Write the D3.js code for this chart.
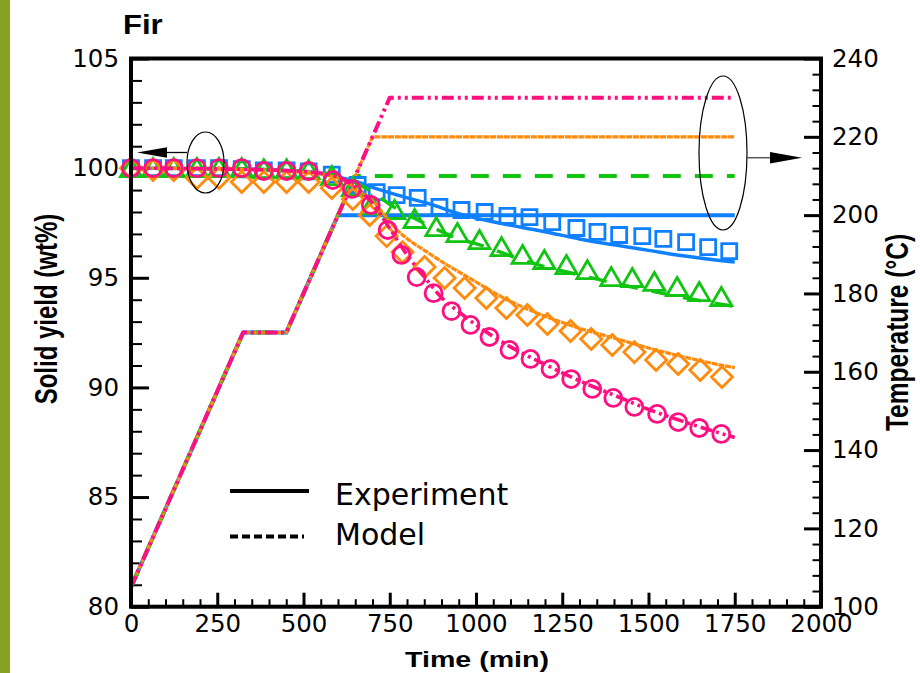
<!DOCTYPE html>
<html>
<head>
<meta charset="utf-8">
<script src="https://cdn.jsdelivr.net/npm/d3@7"></script>
<style>
  html, body { margin: 0; padding: 0; background: #fff; }
  svg { display: block; }
</style>
</head>
<body>
<svg id="chart" width="920" height="673"></svg>
<script>
// Fir torrefaction: solid yield (left axis) and temperature programme (right axis) vs time

// ---- axis ticks ----
const xTicks = [0, 250, 500, 750, 1000, 1250, 1500, 1750, 2000];
const yLeftTicks = [80, 85, 90, 95, 100, 105];
const yRightTicks = [100, 120, 140, 160, 180, 200, 220, 240];

// ---- series (one per final temperature) ----
const seriesKeys = ["T200", "T210", "T220", "T230"];
const seriesColors = ["#0f80ff", "#12c412", "#ff8a0c", "#ff0f80"];
const seriesSymbols = ["square", "triangle", "diamond", "circle"];

// experimental solid yield, wt%
const expTime200 = [0, 64, 124, 191, 255, 321, 385, 451, 515, 582, 657, 712, 770, 831, 894, 958, 1025, 1091, 1155, 1221, 1291, 1352, 1415, 1482, 1543, 1609, 1673, 1734];
const expYield200 = [100, 100, 100, 100, 100, 99.95, 99.9, 99.9, 99.85, 99.7, 99.23, 98.91, 98.77, 98.64, 98.23, 98.09, 98.0, 97.82, 97.77, 97.54, 97.27, 97.09, 96.95, 96.9, 96.77, 96.63, 96.4, 96.22];

const expTime210 = [0, 64, 124, 191, 255, 321, 385, 451, 515, 582, 643, 697, 764, 822, 885, 946, 1010, 1074, 1135, 1198, 1262, 1323, 1392, 1453, 1517, 1583, 1647, 1711];
const expYield210 = [100, 100, 100, 100, 100, 100, 99.95, 99.95, 99.91, 99.64, 99.14, 98.3, 98.09, 97.68, 97.31, 97.04, 96.72, 96.4, 96.04, 95.81, 95.58, 95.35, 95.03, 94.99, 94.81, 94.58, 94.35, 94.12];

const expTime220 = [0, 64, 124, 191, 255, 321, 385, 451, 515, 582, 643, 692, 741, 787, 851, 909, 967, 1030, 1088, 1149, 1207, 1274, 1334, 1395, 1459, 1522, 1586, 1650, 1713];
const expYield220 = [100, 99.91, 99.91, 99.55, 99.55, 99.37, 99.37, 99.37, 99.37, 99.09, 98.59, 97.86, 96.9, 96.17, 95.49, 94.99, 94.53, 94.08, 93.62, 93.3, 92.89, 92.57, 92.21, 91.93, 91.61, 91.25, 91.07, 90.79, 90.47];

const expTime230 = [0, 64, 124, 191, 255, 321, 385, 451, 515, 585, 640, 695, 744, 784, 828, 877, 929, 984, 1039, 1097, 1158, 1216, 1276, 1337, 1398, 1459, 1525, 1586, 1647, 1711];
const expYield230 = [100, 100, 100, 100, 100, 100, 99.87, 99.87, 99.87, 99.46, 99.05, 98.32, 97.18, 96.04, 95.03, 94.3, 93.48, 92.85, 92.3, 91.71, 91.3, 90.84, 90.38, 89.93, 89.52, 89.11, 88.79, 88.42, 88.15, 87.88];

// model solid yield, wt%
const modTime200 = [0, 300, 500, 600, 650, 700, 770, 865, 960, 1060, 1200, 1300, 1400, 1500, 1600, 1700, 1750];
const modYield200 = [100, 99.97, 99.85, 99.6, 99.4, 99.12, 98.78, 98.37, 97.88, 97.52, 97.1, 96.77, 96.5, 96.25, 96.0, 95.8, 95.72];

const modTime210 = [0, 300, 500, 600, 650, 700, 750, 830, 930, 1030, 1100, 1200, 1300, 1400, 1500, 1600, 1700, 1750];
const modYield210 = [100, 99.97, 99.85, 99.65, 99.35, 98.9, 98.35, 97.65, 96.9, 96.4, 96.0, 95.5, 95.13, 94.76, 94.42, 94.1, 93.82, 93.7];

const modTime220 = [0, 300, 500, 600, 650, 700, 770, 870, 990, 1090, 1200, 1300, 1400, 1500, 1600, 1700, 1750];
const modYield220 = [100, 99.95, 99.8, 99.55, 99.1, 98.5, 97.2, 96.05, 94.9, 94.0, 93.25, 92.7, 92.25, 91.8, 91.4, 91.05, 90.9];

const modTime230 = [0, 300, 500, 600, 650, 700, 750, 800, 850, 900, 950, 1000, 1100, 1200, 1300, 1400, 1500, 1600, 1700, 1750];
const modYield230 = [100, 99.95, 99.85, 99.6, 99.15, 98.4, 97.25, 96.05, 95.05, 94.1, 93.45, 92.85, 91.85, 91.05, 90.3, 89.65, 89.0, 88.45, 87.95, 87.72];

// temperature programmes, °C
const tempTime200 = [0, 325, 450, 600, 1750];
const tempValue200 = [105, 170, 170, 200, 200];
const tempTime210 = [0, 325, 450, 650, 1750];
const tempValue210 = [105, 170, 170, 210, 210];
const tempTime220 = [0, 325, 450, 700, 1750];
const tempValue220 = [105, 170, 170, 220, 220];
const tempTime230 = [0, 325, 450, 750, 1750];
const tempValue230 = [105, 170, 170, 230, 230];

// legend
const legendLabels = ["Experiment", "Model"];

// ---------------------------------------------------------------
const zip = (xs, ys) => xs.map((x, i) => [x, ys[i]]);
const expData = [zip(expTime200, expYield200), zip(expTime210, expYield210), zip(expTime220, expYield220), zip(expTime230, expYield230)];
const modData = [zip(modTime200, modYield200), zip(modTime210, modYield210), zip(modTime220, modYield220), zip(modTime230, modYield230)];
const tempData = [zip(tempTime200, tempValue200), zip(tempTime210, tempValue210), zip(tempTime220, tempValue220), zip(tempTime230, tempValue230)];

// line style per series: solid, dashed, fine-dotted, dash-dot-dot
const dashStyles = [null, "18,14", "6,0.8", "12,4,3,4,3,4"];
const tempWidths = [4, 4, 3.2, 4];
const modWidths = [3.5, 3.5, 3.2, 3.6];

const svg = d3.select("#chart");
const L = 131, R = 821, T = 58.5, B = 606.7;

const x = d3.scaleLinear().domain([0, 2000]).range([L, R]);
const yL = d3.scaleLinear().domain([80, 105]).range([B, T]);
const yR = d3.scaleLinear().domain([100, 240]).range([B, T]);

// side band
svg.append("rect").attr("x", 0).attr("y", 0).attr("width", 10).attr("height", 673).attr("fill", "#87a324");

const tickFont = "DejaVu Sans";

// ---- axes ----
function styleAxis(g, major) {
  g.select(".domain").remove();
  g.selectAll(".tick line").attr("stroke", "#000").attr("stroke-width", major ? 3 : 2);
  g.selectAll(".tick text").attr("font-family", tickFont).attr("font-size", 24.5).attr("fill", "#000");
}

// minor ticks
const minorX = d3.range(0, 2001, 50).filter(v => v % 250 !== 0);
const minorYL = d3.range(80, 105.01, 1).filter(v => v % 5 !== 0);
const minorYR = d3.range(100, 240.01, 4).filter(v => v % 20 !== 0);

svg.append("g").attr("transform", `translate(0,${B})`)
  .call(d3.axisBottom(x).tickValues(minorX).tickSize(-7.5).tickSizeOuter(0).tickFormat(""))
  .call(g => styleAxis(g, false));
svg.append("g").attr("transform", `translate(${L},0)`)
  .call(d3.axisLeft(yL).tickValues(minorYL).tickSize(-11).tickSizeOuter(0).tickFormat(""))
  .call(g => styleAxis(g, false));
svg.append("g").attr("transform", `translate(${R},0)`)
  .call(d3.axisRight(yR).tickValues(minorYR).tickSize(-8.5).tickSizeOuter(0).tickFormat(""))
  .call(g => styleAxis(g, false));

// major ticks + labels
svg.append("g").attr("transform", `translate(0,${B})`)
  .call(d3.axisBottom(x).tickValues(xTicks).tickSize(-14).tickSizeOuter(0).tickPadding(8).tickFormat(d3.format("d")))
  .call(g => styleAxis(g, true));
svg.append("g").attr("transform", `translate(${L},0)`)
  .call(d3.axisLeft(yL).tickValues(yLeftTicks).tickSize(-18).tickSizeOuter(0).tickPadding(12).tickFormat(d3.format("d")))
  .call(g => styleAxis(g, true));
svg.append("g").attr("transform", `translate(${R},0)`)
  .call(d3.axisRight(yR).tickValues(yRightTicks).tickSize(-17).tickSizeOuter(0).tickPadding(11).tickFormat(d3.format("d")))
  .call(g => styleAxis(g, true));

// ---- temperature lines (right axis) ----
const tempLine = d3.line().x(d => x(d[0])).y(d => yR(d[1]));
const plot = svg.append("g");
tempData.forEach((pts, i) => {
  plot.append("path").datum(pts)
    .attr("d", tempLine)
    .attr("fill", "none")
    .attr("stroke", seriesColors[i])
    .attr("stroke-width", tempWidths[i])
    .attr("stroke-dasharray", dashStyles[i])
    .attr("stroke-linejoin", "round");
});

// ---- model yield curves + experimental markers (left axis) ----
const modLine = d3.line().x(d => x(d[0])).y(d => yL(d[1])).curve(d3.curveMonotoneX);

const markerPath = {
  square: "M-7.5,-7.5h15v15h-15Z",
  diamond: "M0,-10.5L10.5,0L0,10.5L-10.5,0Z",
  triangle: "M0,-9.5L10.5,8.5L-10.5,8.5Z",
  circle: "M8.5,0A8.5,8.5,0,1,1,-8.5,0A8.5,8.5,0,1,1,8.5,0Z"
};

seriesKeys.forEach((key, i) => {
  const g = plot.append("g").attr("class", key);
  g.append("path").datum(modData[i])
    .attr("d", modLine)
    .attr("fill", "none")
    .attr("stroke", seriesColors[i])
    .attr("stroke-width", modWidths[i])
    .attr("stroke-dasharray", dashStyles[i]);
  g.selectAll("path.mk").data(expData[i]).join("path")
    .attr("class", "mk")
    .attr("transform", d => `translate(${x(d[0])},${yL(d[1])})`)
    .attr("d", markerPath[seriesSymbols[i]])
    .attr("fill", "none")
    .attr("stroke", seriesColors[i])
    .attr("stroke-width", 2.8);
});

// ---- frame ----
svg.append("rect").attr("x", L).attr("y", T).attr("width", R - L).attr("height", B - T)
  .attr("fill", "none").attr("stroke", "#000").attr("stroke-width", 4);

// ---- annotations: axis-pointing ellipses ----
svg.append("ellipse").attr("cx", 205.5).attr("cy", 162.5).attr("rx", 18.5).attr("ry", 30.5)
  .attr("fill", "none").attr("stroke", "#000").attr("stroke-width", 1.2);
svg.append("line").attr("x1", 187).attr("y1", 152.5).attr("x2", 165).attr("y2", 152.5)
  .attr("stroke", "#000").attr("stroke-width", 1.3);
svg.append("path").attr("d", "M137,152.5L167,147.2L167,157.8Z").attr("fill", "#000");

svg.append("ellipse").attr("cx", 723).attr("cy", 153).attr("rx", 24).attr("ry", 77)
  .attr("fill", "none").attr("stroke", "#000").attr("stroke-width", 1.2);
svg.append("line").attr("x1", 747).attr("y1", 157.7).attr("x2", 771).attr("y2", 157.7)
  .attr("stroke", "#555").attr("stroke-width", 1.5);
svg.append("path").attr("d", "M802,157.7L770,151.9L770,163.5Z").attr("fill", "#000");

// ---- legend ----
const legend = svg.append("g");
const legendDash = [null, "8,4"];
const legendY = [491, 536.5];
const legendBase = [505, 545];
legendLabels.forEach((lab, i) => {
  legend.append("line")
    .attr("x1", 230).attr("x2", i === 0 ? 309 : 304)
    .attr("y1", legendY[i]).attr("y2", legendY[i])
    .attr("stroke", "#000").attr("stroke-width", 4)
    .attr("stroke-dasharray", legendDash[i]);
  legend.append("text")
    .attr("x", 335).attr("y", legendBase[i])
    .attr("font-family", "DejaVu Sans").attr("font-size", 30)
    .attr("fill", "#000")
    .text(lab);
});

// ---- titles ----
const titleFont = "Liberation Sans";
svg.append("text")
  .attr("transform", "translate(123,34) scale(1.15,1)")
  .attr("font-family", titleFont).attr("font-weight", "bold").attr("font-size", 27)
  .text("Fir");

svg.append("text")
  .attr("transform", `translate(${(L + R) / 2 + 1},667) scale(1.3,1)`)
  .attr("text-anchor", "middle")
  .attr("font-family", titleFont).attr("font-weight", "bold").attr("font-size", 22)
  .text("Time (min)");

svg.append("text")
  .attr("transform", "translate(57,309) rotate(-90) scale(1,1.3)")
  .attr("text-anchor", "middle")
  .attr("font-family", titleFont).attr("font-weight", "bold").attr("font-size", 24)
  .text("Solid yield (wt%)");

svg.append("text")
  .attr("transform", "translate(908,332.5) rotate(-90) scale(1,1.3)")
  .attr("text-anchor", "middle")
  .attr("font-family", titleFont).attr("font-weight", "bold").attr("font-size", 24.5)
  .text("Temperature (°C)");
</script>
</body>
</html>
